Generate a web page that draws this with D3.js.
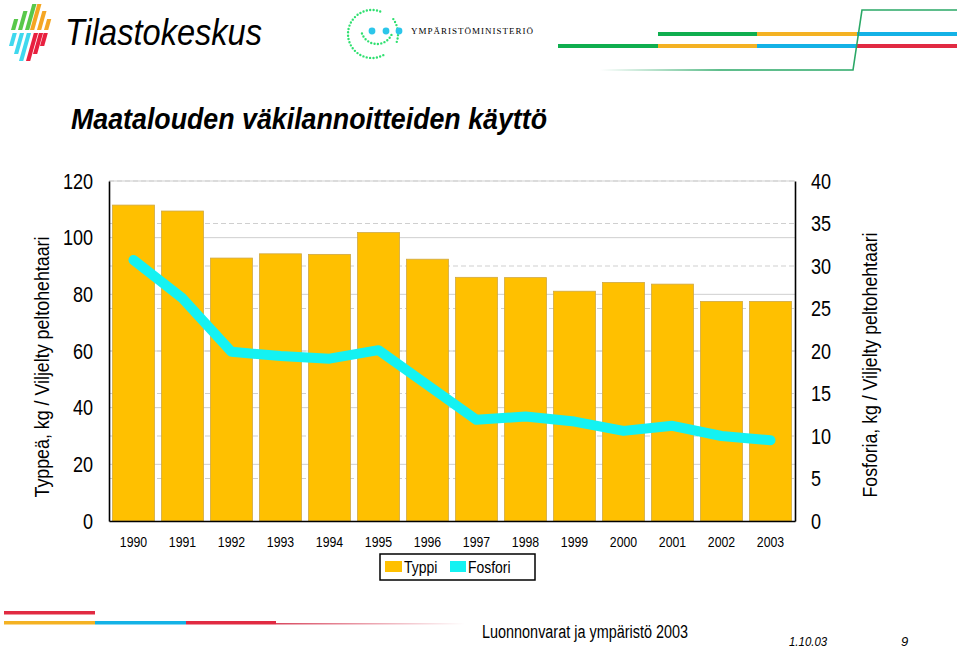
<!DOCTYPE html>
<html lang="fi">
  <head>
    <meta charset="UTF-8">
    <script src="https://cdn.jsdelivr.net/npm/d3@7"></script>
    <title>Maatalouden väkilannoitteiden käyttö</title>
    <style>
    body { margin: 0; background: #fff; }
    svg { display: block; }
    .narrow { font-family: "Liberation Sans", Arial, sans-serif; }
    </style>
  </head>
  <body>
    <div id="chart"></div>
    <script>

// Data
const years    = ["1990", "1991", "1992", "1993", "1994", "1995", "1996", "1997", "1998", "1999", "2000", "2001", "2002", "2003"];
const typpi    = [111.5, 109.4, 92.8, 94.3, 94.1, 101.8, 92.4, 86.0, 85.9, 81.1, 84.2, 83.6, 77.5, 77.5];   // kg/ha, left axis
const fosfori  = [30.7, 26.2, 19.9, 19.4, 19.1, 20.1, 16.0, 11.9, 12.3, 11.7, 10.6, 11.2, 10.0, 9.5];    // kg/ha, right axis
const leftTicks  = [0, 20, 40, 60, 80, 100, 120];
const rightTicks = [0, 5, 10, 15, 20, 25, 30, 35, 40];

const width  = 960;
const height = 649;

const barColour  = "#FFC000";
const lineColour = "#14F2F2";

const svg = d3.select("#chart")
  .append("svg")
  .attr("width", width)
  .attr("height", height)
  .attr("viewBox", [0, 0, width, height]);

// the slide uses a condensed face; squeeze Liberation Sans horizontally
function squeeze(sel, f) {
  sel.each(function () {
    const w = this.getComputedTextLength();
    d3.select(this).attr("textLength", w * f).attr("lengthAdjust", "spacingAndGlyphs");
  });
}

// plot area
const plotL = 109, plotR = 795, plotT = 181, plotB = 521;

const x = d3.scaleBand()
  .domain(years)
  .range([plotL, plotR])
  .paddingInner(0.143)
  .paddingOuter(0.0715);

const yL = d3.scaleLinear().domain([0, 120]).range([plotB, plotT]);
const yR = d3.scaleLinear().domain([0, 40]).range([plotB, plotT]);

// gridlines: solid for the left scale, dashed for the right one
svg.append("g")
  .selectAll("line")
  .data(leftTicks.slice(1))
  .join("line")
    .attr("x1", plotL).attr("x2", plotR)
    .attr("y1", d => yL(d)).attr("y2", d => yL(d))
    .attr("stroke", "#cfcfcf").attr("stroke-width", 1);

svg.append("g")
  .selectAll("line")
  .data(rightTicks.slice(1))
  .join("line")
    .attr("x1", plotL).attr("x2", plotR)
    .attr("y1", d => yR(d)).attr("y2", d => yR(d))
    .attr("stroke", "#cfcfcf").attr("stroke-width", 1)
    .attr("stroke-dasharray", "5,3");

// bars
svg.append("g")
  .selectAll("rect")
  .data(years)
  .join("rect")
    .attr("x", d => x(d))
    .attr("width", x.bandwidth())
    .attr("y", (d, i) => yL(typpi[i]))
    .attr("height", (d, i) => plotB - yL(typpi[i]))
    .attr("fill", barColour)
    .attr("stroke", "#cfa845")
    .attr("stroke-width", 0.8);

// phosphorus line
const line = d3.line()
  .x((d, i) => x(years[i]) + x.bandwidth() / 2)
  .y(d => yR(d));

svg.append("path")
  .datum(fosfori)
  .attr("d", line)
  .attr("fill", "none")
  .attr("stroke", lineColour)
  .attr("stroke-width", 10)
  .attr("stroke-linejoin", "round")
  .attr("stroke-linecap", "round");

// axes
const axisL = svg.append("g")
  .attr("class", "narrow")
  .attr("transform", `translate(${plotL},0)`)
  .call(d3.axisLeft(yL).tickValues(leftTicks).tickSize(0).tickPadding(16));

const axisR = svg.append("g")
  .attr("class", "narrow")
  .attr("transform", `translate(${plotR},0)`)
  .call(d3.axisRight(yR).tickValues(rightTicks).tickSize(0).tickPadding(16));

const axisB = svg.append("g")
  .attr("class", "narrow")
  .attr("transform", `translate(0,${plotB})`)
  .call(d3.axisBottom(x).tickSize(0).tickPadding(15));

[axisL, axisR].forEach(g => {
  g.attr("font-family", null).attr("font-size", 22);
  g.selectAll("text").attr("fill", "#000").call(squeeze, 0.82);
  g.select(".domain").attr("stroke", "#000").attr("stroke-width", 1.6);
});
axisB.attr("font-family", null).attr("font-size", 15);
axisB.selectAll("text").attr("fill", "#000").call(squeeze, 0.82);
axisB.select(".domain").attr("stroke", "#000").attr("stroke-width", 1.6);

// axis titles
svg.append("text")
  .attr("class", "narrow")
  .attr("transform", "translate(49,367) rotate(-90)")
  .attr("text-anchor", "middle")
  .attr("font-size", 20)
  .attr("textLength", 261)
  .attr("lengthAdjust", "spacingAndGlyphs")
  .text("Typpeä, kg / Viljelty peltohehtaari");

svg.append("text")
  .attr("class", "narrow")
  .attr("transform", "translate(877,365) rotate(-90)")
  .attr("text-anchor", "middle")
  .attr("font-size", 20)
  .attr("textLength", 265)
  .attr("lengthAdjust", "spacingAndGlyphs")
  .text("Fosforia, kg / Viljelty peltohehtaari");

// title
svg.append("text")
  .attr("x", 71).attr("y", 129)
  .attr("font-family", "Liberation Sans, Arial, sans-serif")
  .attr("font-weight", "bold")
  .attr("font-style", "italic")
  .attr("font-size", 29)
  .attr("textLength", 476)
  .attr("lengthAdjust", "spacingAndGlyphs")
  .text("Maatalouden väkilannoitteiden käyttö");

// legend
const legend = svg.append("g").attr("class", "narrow").attr("font-size", 17);
legend.append("rect")
  .attr("x", 380).attr("y", 554).attr("width", 155).attr("height", 26)
  .attr("fill", "none").attr("stroke", "#000").attr("stroke-width", 1.5);
legend.append("rect").attr("x", 385).attr("y", 561).attr("width", 17).attr("height", 11).attr("fill", barColour);
legend.append("text").attr("x", 404).attr("y", 573).text("Typpi").call(squeeze, 0.82);
legend.append("rect").attr("x", 450).attr("y", 561).attr("width", 16).attr("height", 11).attr("fill", lineColour);
legend.append("text").attr("x", 468).attr("y", 573).text("Fosfori").call(squeeze, 0.82);

// ---- slide decorations ----

// Tilastokeskus logo: slanted bars
const slant = 0.28;
function bar(x0, yb, w, yt) {
  const s = (yb - yt) * slant;
  return `M${x0},${yb}L${x0 + w},${yb}L${x0 + w + s},${yt}L${x0 + s},${yt}Z`;
}
const logoTop = [
  [11, 19, "#58c84a"], [18, 11, "#58c84a"], [25, 4, "#58c84a"],
  [30, 4, "#f5a623"], [37, 11, "#f5a623"], [44, 19, "#f5a623"]
];
const logoBottom = [
  [9, 46, "#3fd8ee"], [14, 54, "#3fd8ee"], [19, 61, "#3fd8ee"],
  [26, 61, "#e8203f"], [33, 54, "#e8203f"], [40, 46, "#e8203f"]
];
const logo = svg.append("g");
logoTop.forEach(([bx, bt, c]) => {
  logo.append("path").attr("d", bar(bx, 30, 4.2, bt)).attr("fill", c);
});
logoBottom.forEach(([bx, bb, c]) => {
  logo.append("path").attr("d", bar(bx, bb, 4.2, 33)).attr("fill", c);
});
svg.append("text")
  .attr("x", 65).attr("y", 45)
  .attr("font-family", "Liberation Sans, Arial, sans-serif")
  .attr("font-style", "italic")
  .attr("font-size", 37)
  .attr("textLength", 197)
  .attr("lengthAdjust", "spacingAndGlyphs")
  .text("Tilastokeskus");

// Ympäristöministeriö logo
const green = "#2fe070";
function arcPath(cx, cy, r, a0, a1, ccw) {
  const p = d3.path();
  p.arc(cx, cy, r, a0, a1, ccw);
  return p.toString();
}
const deg = Math.PI / 180;
[[372, 34, 24, -70 * deg, 55 * deg, true],
 [372, 34, 26, -35 * deg, 20 * deg, false],
 [377, 28, 16, 160 * deg, 25 * deg, true]].forEach(([cx, cy, r, a0, a1, ccw]) => {
  svg.append("path")
    .attr("d", arcPath(cx, cy, r, a0, a1, ccw))
    .attr("fill", "none")
    .attr("stroke", green)
    .attr("stroke-width", 2.4)
    .attr("stroke-linecap", "round")
    .attr("stroke-dasharray", "0 3.4");
});
svg.append("g")
  .selectAll("circle")
  .data([372, 386, 399])
  .join("circle")
    .attr("cx", d => d).attr("cy", 31).attr("r", 3.4)
    .attr("fill", "#2cc6ea");
svg.append("text")
  .attr("x", 411).attr("y", 34)
  .attr("font-family", "Liberation Serif, DejaVu Serif, serif")
  .attr("font-size", 9)
  .attr("textLength", 122)
  .attr("lengthAdjust", "spacing")
  .text("YMPÄRISTÖMINISTERIÖ");

// top right stripes
const stripeColours = { g: "#0fae4f", o: "#f4b223", c: "#14b2e6", r: "#e12a42" };
const topStripes = [
  [658, 757, 34, "g"], [757, 857, 34, "o"], [857, 957, 34, "c"],
  [558, 658, 46, "g"], [658, 757, 46, "o"], [757, 857, 46, "c"], [857, 957, 46, "r"]
];
svg.append("g")
  .selectAll("rect")
  .data(topStripes)
  .join("rect")
    .attr("x", d => d[0]).attr("width", d => d[1] - d[0])
    .attr("y", d => d[2] - 2).attr("height", 4)
    .attr("fill", d => stripeColours[d[3]]);

const defs = svg.append("defs");
const gTop = defs.append("linearGradient").attr("id", "fadeGreen")
  .attr("gradientUnits", "userSpaceOnUse").attr("x1", 600).attr("x2", 720);
gTop.append("stop").attr("offset", "0%").attr("stop-color", "#2aa866").attr("stop-opacity", 0);
gTop.append("stop").attr("offset", "100%").attr("stop-color", "#2aa866").attr("stop-opacity", 1);
svg.append("path")
  .attr("d", "M600,70L853,70L862,10L957,10")
  .attr("fill", "none")
  .attr("stroke", "url(#fadeGreen)")
  .attr("stroke-width", 1.6);

// footer stripes
const footStripes = [
  [4, 95, 613, "r"],
  [4, 95, 623, "o"], [95, 186, 623, "c"], [186, 276, 623, "r"]
];
svg.append("g")
  .selectAll("rect")
  .data(footStripes)
  .join("rect")
    .attr("x", d => d[0]).attr("width", d => d[1] - d[0])
    .attr("y", d => d[2] - 2).attr("height", 3.5)
    .attr("fill", d => stripeColours[d[3]]);

const gFoot = defs.append("linearGradient").attr("id", "fadeRed")
  .attr("gradientUnits", "userSpaceOnUse").attr("x1", 276).attr("x2", 465);
gFoot.append("stop").attr("offset", "0%").attr("stop-color", "#d8485f").attr("stop-opacity", 1);
gFoot.append("stop").attr("offset", "100%").attr("stop-color", "#d8485f").attr("stop-opacity", 0);
svg.append("rect")
  .attr("x", 276).attr("y", 623).attr("width", 189).attr("height", 1.5)
  .attr("fill", "url(#fadeRed)");

// footer text
svg.append("text")
  .attr("class", "narrow")
  .attr("x", 482).attr("y", 638)
  .attr("font-size", 18)
  .attr("textLength", 206)
  .attr("lengthAdjust", "spacingAndGlyphs")
  .text("Luonnonvarat ja ympäristö 2003");
svg.append("text")
  .attr("class", "narrow")
  .attr("x", 789).attr("y", 646)
  .attr("font-size", 13)
  .attr("font-style", "italic")
  .text("1.10.03")
  .call(squeeze, 0.88);
svg.append("text")
  .attr("class", "narrow")
  .attr("x", 901).attr("y", 646)
  .attr("font-size", 13)
  .attr("font-style", "italic")
  .text("9");

    </script>
  </body>
</html>
